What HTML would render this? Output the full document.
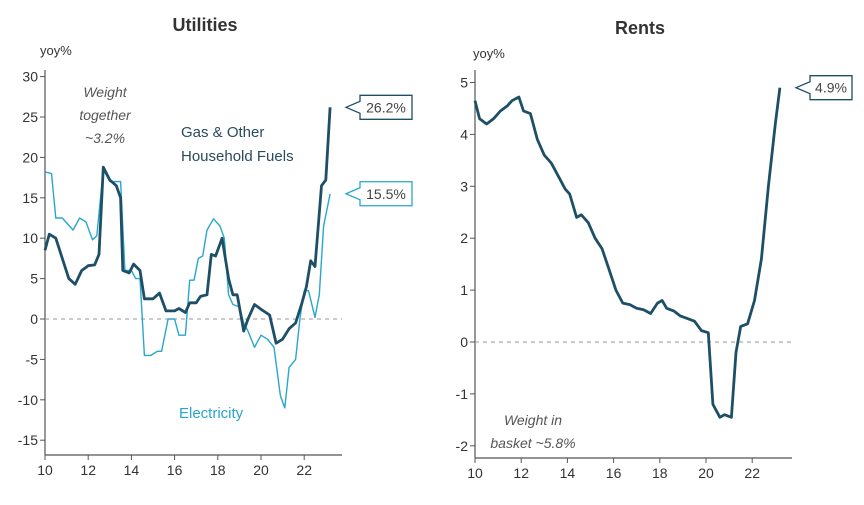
<!DOCTYPE html>
<html><head><meta charset="utf-8"><style>
body{margin:0;background:#fff;}
svg{display:block;font-family:"Liberation Sans",sans-serif;}
</style></head><body>
<svg id="c" width="864" height="505"></svg>
<script>
const gasX=[10.0,10.2,10.5,10.8,11.1,11.4,11.7,12.0,12.3,12.5,12.7,13.0,13.3,13.5,13.6,13.9,14.1,14.4,14.6,15.0,15.3,15.6,16.0,16.2,16.5,16.7,17.0,17.2,17.5,17.7,17.9,18.2,18.5,18.7,18.9,19.1,19.2,19.4,19.7,20.0,20.4,20.7,21.0,21.3,21.6,21.9,22.1,22.3,22.5,22.8,23.0,23.2];
const gasY=[8.5,10.5,10,7.5,5,4.3,6,6.6,6.7,8,18.8,17.2,16.5,15,6,5.7,6.8,6,2.5,2.5,3.2,1,1,1.3,0.8,2,2,2.8,3,8,7.8,10,5,3,3,0,-1.5,0,1.8,1.2,0.5,-3,-2.5,-1.2,-0.5,2,4,7.2,6.5,16.5,17.2,26.2];
const elX=[10.0,10.3,10.5,10.8,11.3,11.6,11.9,12.2,12.4,12.7,13.0,13.3,13.5,13.7,14.0,14.2,14.4,14.6,14.9,15.2,15.4,15.7,16.0,16.2,16.5,16.7,16.9,17.1,17.3,17.5,17.8,18.1,18.3,18.5,18.7,19.0,19.2,19.4,19.7,20.0,20.3,20.6,20.9,21.1,21.3,21.6,21.8,22.0,22.2,22.5,22.7,22.9,23.2];
const elY=[18.2,18,12.5,12.5,11,12.5,12,9.8,10.3,18.5,17,17,17,6,6,5,5,-4.5,-4.5,-4,-4,0,0,-2,-2,4.8,4.8,7.5,7.8,11,12.4,11.5,10,3,1.8,1.5,-0.5,-1.5,-3.5,-2,-2.5,-3.5,-9.5,-11,-6,-5,0,3.5,3.5,0.2,3,11.5,15.5];
const rentX=[10.0,10.2,10.5,10.8,11.1,11.4,11.6,11.9,12.1,12.4,12.7,13.0,13.3,13.6,13.9,14.1,14.4,14.6,14.9,15.2,15.5,15.8,16.1,16.4,16.7,17.0,17.3,17.6,17.9,18.1,18.3,18.6,18.9,19.2,19.5,19.8,20.1,20.3,20.6,20.8,21.1,21.3,21.5,21.8,22.1,22.4,22.7,23.0,23.2];
const rentY=[4.65,4.3,4.2,4.3,4.45,4.55,4.65,4.72,4.45,4.4,3.9,3.6,3.45,3.2,2.95,2.85,2.4,2.45,2.3,2.0,1.8,1.4,1.0,0.75,0.72,0.65,0.62,0.55,0.75,0.8,0.65,0.6,0.5,0.45,0.4,0.22,0.18,-1.2,-1.45,-1.4,-1.45,-0.2,0.3,0.35,0.8,1.6,3.0,4.2,4.9];
const leftTicks=[30,25,20,15,10,5,0,-5,-10,-15];
const rightTicks=[5,4,3,2,1,0,-1,-2];
const xTicks=[10,12,14,16,18,20,22];

const svg=document.getElementById('c');
const NS='http://www.w3.org/2000/svg';
function mk(tag,at,txt){const e=document.createElementNS(NS,tag);for(const k in at)e.setAttribute(k,at[k]);if(txt!==undefined)e.textContent=txt;svg.appendChild(e);return e;}

function panel(P){
  const sx=v=>P.x0+(v-10)*P.xs, sy=v=>P.y0-v*P.ys;
  let a=mk('line',{x1:P.x0,y1:P.top,x2:P.x0,y2:P.axY,stroke:'#555','stroke-width':1.2});
  
  a=mk('line',{x1:P.x0,y1:P.axY,x2:P.right,y2:P.axY,stroke:'#555','stroke-width':1.2});
  
  a=mk('line',{x1:P.x0,y1:sy(0),x2:P.right,y2:sy(0),stroke:'#999','stroke-width':1,'stroke-dasharray':'4,4'});
  
  P.ticks.forEach(t=>{
    mk('line',{x1:P.x0-5,y1:sy(t),x2:P.x0,y2:sy(t),stroke:'#555'});
    const e=mk('text',{x:P.x0-7,y:sy(t)+5,'text-anchor':'end','font-size':14,fill:'#333'},t);
    
  });
  xTicks.forEach(t=>{
    mk('line',{x1:sx(t),y1:P.axY,x2:sx(t),y2:P.axY+5,stroke:'#555'});
    const e=mk('text',{x:sx(t),y:P.axY+20,'text-anchor':'middle','font-size':14,fill:'#333'},t);
    
  });
  P.series.forEach(s=>{
    const d=s.x.map((v,i)=>(i?'L':'M')+sx(v).toFixed(1)+','+sy(s.y[i]).toFixed(1)).join('');
    const e=mk('path',{d:d,fill:'none',stroke:s.c,'stroke-width':s.w,'stroke-linejoin':'round'});
    
    const lv=s.y[s.y.length-1], ly=sy(lv), bx=P.right+18;
    const g=mk('path',{d:`M${bx-14},${ly} L${bx},${ly-6} L${bx},${ly-12} L${bx+s.bw},${ly-12} L${bx+s.bw},${ly+12} L${bx},${ly+12} L${bx},${ly+6} Z`,fill:'#fff',stroke:s.c,'stroke-width':1.3});
    
    const t=mk('text',{x:bx+s.bw/2,y:ly+5,'text-anchor':'middle','font-size':14,fill:'#444'},lv.toFixed(1)+'%');
    
  });
}
panel({id:'utilities',x0:45,xs:21.6,y0:319,ys:8.08,top:70,axY:455,right:342,ticks:leftTicks,
  series:[{name:'electricity-line',x:elX,y:elY,c:'#2aa6cc',w:1.4,bw:52},{name:'gas-line',x:gasX,y:gasY,c:'#1d4f66',w:2.8,bw:52}]});
panel({id:'rents',x0:475,xs:23.1,y0:342,ys:51.9,top:70,axY:458,right:792,ticks:rightTicks,
  series:[{name:'rents-line',x:rentX,y:rentY,c:'#1d4f66',w:2.8,bw:42}]});

function txt(x,y,s,at,name){const e=mk('text',Object.assign({x:x,y:y,fill:'#333'},at),s);}
txt(205,31,'Utilities',{'text-anchor':'middle','font-size':18,'font-weight':'bold'},'utilities-title');
txt(640,34,'Rents',{'text-anchor':'middle','font-size':18,'font-weight':'bold'},'rents-title');
txt(40,55,'yoy%',{'font-size':13},'utilities-y-unit');
txt(473,58,'yoy%',{'font-size':13},'rents-y-unit');
txt(105,97,'Weight',{'text-anchor':'middle','font-size':14,'font-style':'italic',fill:'#555'},'weight-note-1');
txt(105,120,'together',{'text-anchor':'middle','font-size':14,'font-style':'italic',fill:'#555'},'weight-note-2');
txt(105,143,'~3.2%',{'text-anchor':'middle','font-size':14,'font-style':'italic',fill:'#555'},'weight-note-3');
txt(181,137,'Gas & Other',{'font-size':15,fill:'#2a4a5e'},'gas-label-1');
txt(181,161,'Household Fuels',{'font-size':15,fill:'#2a4a5e'},'gas-label-2');
txt(179,418,'Electricity',{'font-size':15,fill:'#2aa6cc'},'electricity-label');
txt(533,425,'Weight in',{'text-anchor':'middle','font-size':14,'font-style':'italic',fill:'#555'},'rent-weight-1');
txt(533,448,'basket ~5.8%',{'text-anchor':'middle','font-size':14,'font-style':'italic',fill:'#555'},'rent-weight-2');
</script>
</body></html>
